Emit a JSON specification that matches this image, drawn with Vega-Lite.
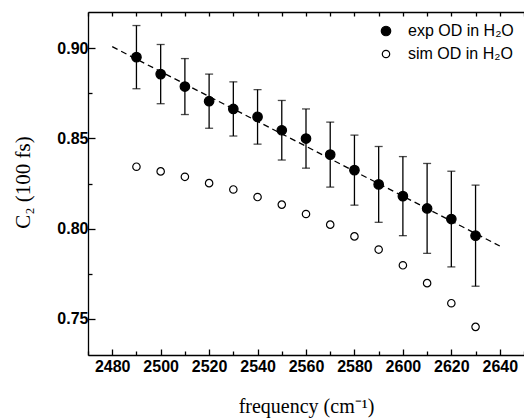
{
  "$schema": "https://vega.github.io/schema/vega-lite/v6.json",
  "autosize": "none",
  "width": 436,
  "height": 343,
  "padding": {"left": 88, "top": 12, "right": 0, "bottom": 65},
  "background": "white",
  "config": {
    "view": {"stroke": null},
    "font": "Liberation Sans",
    "axis": {
      "domainColor": "black",
      "domainWidth": 1.3,
      "tickColor": "black",
      "tickWidth": 1.3,
      "labelColor": "black",
      "labelFont": "Liberation Sans",
      "labelFontSize": 16,
      "labelFontWeight": "bold",
      "grid": false,
      "titleColor": "black",
      "titleFont": "Liberation Serif",
      "titleFontWeight": "normal",
      "titleFontSize": 20
    }
  },
  "datasets": {
    "fit": [
      {"freq": 2480, "c2": 0.9008},
      {"freq": 2640, "c2": 0.7904}
    ],
    "exp": [
      {"freq": 2490, "c2": 0.895, "err": 0.0175},
      {"freq": 2500, "c2": 0.8856, "err": 0.0164},
      {"freq": 2510, "c2": 0.8787, "err": 0.0155},
      {"freq": 2520, "c2": 0.8706, "err": 0.015},
      {"freq": 2530, "c2": 0.8663, "err": 0.015},
      {"freq": 2540, "c2": 0.8619, "err": 0.0151},
      {"freq": 2550, "c2": 0.8545, "err": 0.0165},
      {"freq": 2560, "c2": 0.8499, "err": 0.0164},
      {"freq": 2570, "c2": 0.8410, "err": 0.018},
      {"freq": 2580, "c2": 0.8324, "err": 0.0194},
      {"freq": 2590, "c2": 0.8245, "err": 0.021},
      {"freq": 2600, "c2": 0.818, "err": 0.0219},
      {"freq": 2610, "c2": 0.8112, "err": 0.0249},
      {"freq": 2620, "c2": 0.8053, "err": 0.0265},
      {"freq": 2630, "c2": 0.7961, "err": 0.028}
    ],
    "points": [
      {"freq": 2490, "c2": 0.895, "series": "exp OD in H₂O"},
      {"freq": 2500, "c2": 0.8856, "series": "exp OD in H₂O"},
      {"freq": 2510, "c2": 0.8787, "series": "exp OD in H₂O"},
      {"freq": 2520, "c2": 0.8706, "series": "exp OD in H₂O"},
      {"freq": 2530, "c2": 0.8663, "series": "exp OD in H₂O"},
      {"freq": 2540, "c2": 0.8619, "series": "exp OD in H₂O"},
      {"freq": 2550, "c2": 0.8545, "series": "exp OD in H₂O"},
      {"freq": 2560, "c2": 0.8499, "series": "exp OD in H₂O"},
      {"freq": 2570, "c2": 0.8410, "series": "exp OD in H₂O"},
      {"freq": 2580, "c2": 0.8324, "series": "exp OD in H₂O"},
      {"freq": 2590, "c2": 0.8245, "series": "exp OD in H₂O"},
      {"freq": 2600, "c2": 0.818, "series": "exp OD in H₂O"},
      {"freq": 2610, "c2": 0.8112, "series": "exp OD in H₂O"},
      {"freq": 2620, "c2": 0.8053, "series": "exp OD in H₂O"},
      {"freq": 2630, "c2": 0.7961, "series": "exp OD in H₂O"},
      {"freq": 2490, "c2": 0.8343, "series": "sim OD in H₂O"},
      {"freq": 2500, "c2": 0.8317, "series": "sim OD in H₂O"},
      {"freq": 2510, "c2": 0.8287, "series": "sim OD in H₂O"},
      {"freq": 2520, "c2": 0.8252, "series": "sim OD in H₂O"},
      {"freq": 2530, "c2": 0.8217, "series": "sim OD in H₂O"},
      {"freq": 2540, "c2": 0.8175, "series": "sim OD in H₂O"},
      {"freq": 2550, "c2": 0.8133, "series": "sim OD in H₂O"},
      {"freq": 2560, "c2": 0.8081, "series": "sim OD in H₂O"},
      {"freq": 2570, "c2": 0.8022, "series": "sim OD in H₂O"},
      {"freq": 2580, "c2": 0.7957, "series": "sim OD in H₂O"},
      {"freq": 2590, "c2": 0.7884, "series": "sim OD in H₂O"},
      {"freq": 2600, "c2": 0.7797, "series": "sim OD in H₂O"},
      {"freq": 2610, "c2": 0.7698, "series": "sim OD in H₂O"},
      {"freq": 2620, "c2": 0.7587, "series": "sim OD in H₂O"},
      {"freq": 2630, "c2": 0.7456, "series": "sim OD in H₂O"}
    ]
  },
  "resolve": {"axis": {"x": "independent", "y": "independent"}},
  "layer": [
    {
      "data": {"name": "fit"},
      "mark": {"type": "line", "color": "black", "strokeWidth": 1.3, "strokeDash": [6, 4]},
      "encoding": {
        "x": {
          "field": "freq", "type": "quantitative",
          "scale": {"domain": [2470, 2650], "nice": false, "zero": false},
          "axis": {
            "orient": "bottom",
            "values": [2480, 2500, 2520, 2540, 2560, 2580, 2600, 2620, 2640],
            "tickSize": -6, "labelPadding": 9, "format": "d",
            "title": "frequency (cm⁻¹)", "titlePadding": 22
          }
        },
        "y": {
          "field": "c2", "type": "quantitative",
          "scale": {"domain": [0.73, 0.92], "nice": false, "zero": false},
          "axis": {
            "orient": "left",
            "values": [0.75, 0.8, 0.85, 0.9],
            "tickSize": -7, "labelPadding": 7, "format": ".2f",
            "title": "C₂ (100 fs)", "titleFontSize": 21,
            "titleX": -55, "titleY": 170
          }
        }
      }
    },
    {
      "data": {"name": "exp"},
      "mark": {
        "type": "errorbar",
        "color": "black",
        "ticks": {"size": 8, "thickness": 1.3, "color": "black"},
        "rule": {"strokeWidth": 1.3, "color": "black"}
      },
      "encoding": {
        "x": {
          "field": "freq", "type": "quantitative",
          "axis": {
            "orient": "bottom",
            "values": [2470, 2490, 2510, 2530, 2550, 2570, 2590, 2610, 2630, 2650],
            "tickSize": -4, "labels": false, "domain": false, "title": null
          }
        },
        "y": {
          "field": "c2", "type": "quantitative",
          "axis": {
            "orient": "left",
            "values": [0.775, 0.825, 0.875],
            "tickSize": -4, "labels": false, "domain": false, "title": null
          }
        },
        "yError": {"field": "err"}
      }
    },
    {
      "data": {"name": "points"},
      "mark": {"type": "point", "shape": "circle", "strokeWidth": 1.2, "opacity": 1, "filled": true},
      "encoding": {
        "x": {
          "field": "freq", "type": "quantitative",
          "axis": {
            "orient": "top",
            "values": [2470, 2480, 2490, 2500, 2510, 2520, 2530, 2540, 2550, 2560, 2570, 2580, 2590, 2600, 2610, 2620, 2630, 2640, 2650],
            "tickSize": -4, "labels": false, "title": null
          }
        },
        "y": {"field": "c2", "type": "quantitative", "axis": null},
        "fill": {
          "field": "series", "type": "nominal",
          "scale": {"domain": ["exp OD in H₂O", "sim OD in H₂O"], "range": ["black", "white"]},
          "legend": {
            "orient": "none", "legendX": 290, "legendY": 11,
            "title": null, "labelFontSize": 16, "labelFont": "Liberation Sans",
            "labelColor": "black", "symbolStrokeWidth": 1.2,
            "rowPadding": 7, "labelOffset": 14
          }
        },
        "stroke": {
          "field": "series", "type": "nominal",
          "scale": {"domain": ["exp OD in H₂O", "sim OD in H₂O"], "range": ["black", "black"]},
          "legend": {
            "orient": "none", "legendX": 290, "legendY": 11,
            "title": null, "labelFontSize": 16, "labelFont": "Liberation Sans",
            "labelColor": "black", "symbolStrokeWidth": 1.2,
            "rowPadding": 7, "labelOffset": 14
          }
        },
        "size": {
          "field": "series", "type": "nominal",
          "scale": {"domain": ["exp OD in H₂O", "sim OD in H₂O"], "range": [90, 55]},
          "legend": {
            "orient": "none", "legendX": 290, "legendY": 11,
            "title": null, "labelFontSize": 16, "labelFont": "Liberation Sans",
            "labelColor": "black", "symbolStrokeWidth": 1.2,
            "rowPadding": 7, "labelOffset": 14
          }
        }
      }
    }
  ]
}
